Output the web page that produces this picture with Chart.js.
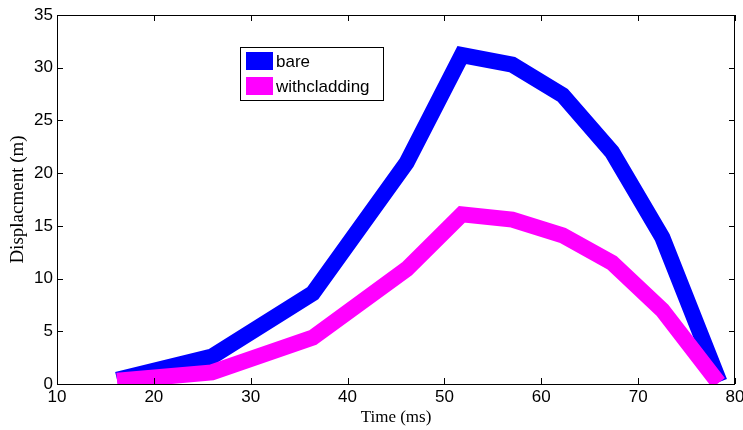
<!DOCTYPE html>
<html>
<head>
<meta charset="utf-8">
<script src="https://cdn.jsdelivr.net/npm/chart.js@4/dist/chart.umd.min.js"></script>
<style>
  html, body { margin: 0; padding: 0; background: #fff; }
  #wrap { width: 743px; height: 430px; }
</style>
</head>
<body>
<div id="wrap"><canvas id="chart"></canvas></div>
<script>
// Datos
const timeBare = [16.2, 26.0, 36.4, 46.1, 51.8, 57.0, 62.2, 67.3, 72.5, 78.4];
const dispBare = [0.4, 2.6, 8.6, 21.0, 31.2, 30.3, 27.4, 22.0, 13.9, 0.2];
const timeClad = [16.2, 26.0, 36.4, 46.1, 51.8, 57.0, 62.2, 67.3, 72.5, 78.3];
const dispClad = [0.3, 1.1, 4.4, 10.9, 16.1, 15.6, 14.1, 11.5, 7.0, 0.1];
const xTicks = [10, 20, 30, 40, 50, 60, 70, 80];
const yTicks = [0, 5, 10, 15, 20, 25, 30, 35];
const seriesNames = ['bare', 'withcladding'];
const seriesColors = ['#0000ff', '#ff00ff'];

const toPoints = (xs, ys) => xs.map((x, i) => ({ x: x, y: ys[i] }));

// Marco y marcas hacia dentro (estilo MATLAB)
const framePlugin = {
    id: 'frame',
    afterDatasetsDraw(chart) {
        const { ctx, chartArea: a, scales } = chart;
        ctx.save();
        ctx.strokeStyle = '#000';
        ctx.lineWidth = 1;
        ctx.strokeRect(a.left + 0.5, a.top + 0.5, a.right - a.left - 1, a.bottom - a.top);
        ctx.beginPath();
        const len = 6;
        xTicks.forEach(v => {
            const px = Math.round(scales.x.getPixelForValue(v)) + 0.5;
            ctx.moveTo(px, a.bottom); ctx.lineTo(px, a.bottom - len);
            ctx.moveTo(px, a.top); ctx.lineTo(px, a.top + len);
        });
        yTicks.forEach(v => {
            const py = Math.round(scales.y.getPixelForValue(v)) + 0.5;
            ctx.moveTo(a.left, py); ctx.lineTo(a.left + len, py);
            ctx.moveTo(a.right, py); ctx.lineTo(a.right - len, py);
        });
        ctx.stroke();

        // Leyenda
        const lx = 240, ly = 47, lw = 143, lh = 53;
        ctx.fillStyle = '#fff';
        ctx.fillRect(lx, ly, lw, lh);
        ctx.strokeRect(lx + 0.5, ly + 0.5, lw, lh);
        ctx.font = '17px Arial, "Liberation Sans", sans-serif';
        ctx.textBaseline = 'middle';
        seriesNames.forEach((name, i) => {
            const cy = ly + 14 + i * 25;
            ctx.fillStyle = seriesColors[i];
            ctx.fillRect(lx + 6, cy - 9, 27, 18);
            ctx.fillStyle = '#000';
            ctx.fillText(name, lx + 36, cy + 1);
        });
        ctx.restore();
    }
};

const tickFont = { family: 'Arial, "Liberation Sans", sans-serif', size: 17 };
const serif = '"Times New Roman", "Liberation Serif", serif';

new Chart(document.getElementById('chart'), {
    type: 'line',
    data: {
        datasets: [
            {
                label: seriesNames[0],
                data: toPoints(timeBare, dispBare),
                borderColor: seriesColors[0],
                borderWidth: 16,
                borderJoinStyle: 'miter',
                pointRadius: 0,
                tension: 0,
                fill: false,
                order: 1
            },
            {
                label: seriesNames[1],
                data: toPoints(timeClad, dispClad),
                borderColor: seriesColors[1],
                borderWidth: 16,
                borderJoinStyle: 'miter',
                pointRadius: 0,
                tension: 0,
                fill: false,
                order: 0
            }
        ]
    },
    options: {
        responsive: true,
        maintainAspectRatio: false,
        animation: false,
        layout: { padding: { left: 0, top: 15, right: 8, bottom: 0 } },
        plugins: {
            legend: { display: false },
            tooltip: { enabled: false }
        },
        scales: {
            x: {
                type: 'linear',
                min: 10,
                max: 80,
                grid: { display: false, drawTicks: false },
                border: { display: false },
                afterBuildTicks: s => { s.ticks = xTicks.map(v => ({ value: v })); },
                afterFit: s => { s.height = 46; s.paddingLeft = 0; s.paddingRight = 0; },
                ticks: { color: '#000', font: tickFont, padding: 3, autoSkip: false, maxRotation: 0 },
                title: { display: true, text: 'Time (ms)', color: '#000', font: { family: serif, size: 17 }, padding: { top: 0, bottom: 2 } }
            },
            y: {
                min: 0,
                max: 35,
                grid: { display: false, drawTicks: false },
                border: { display: false },
                afterBuildTicks: s => { s.ticks = yTicks.map(v => ({ value: v })); },
                afterFit: s => { s.width = 57; s.paddingTop = 0; s.paddingBottom = 0; },
                ticks: { color: '#000', font: tickFont, padding: 4, autoSkip: false },
                title: { display: true, text: 'Displacment (m)', color: '#000', font: { family: serif, size: 19 }, padding: { top: 7, bottom: 0 } }
            }
        }
    },
    plugins: [framePlugin]
});
</script>
</body>
</html>
